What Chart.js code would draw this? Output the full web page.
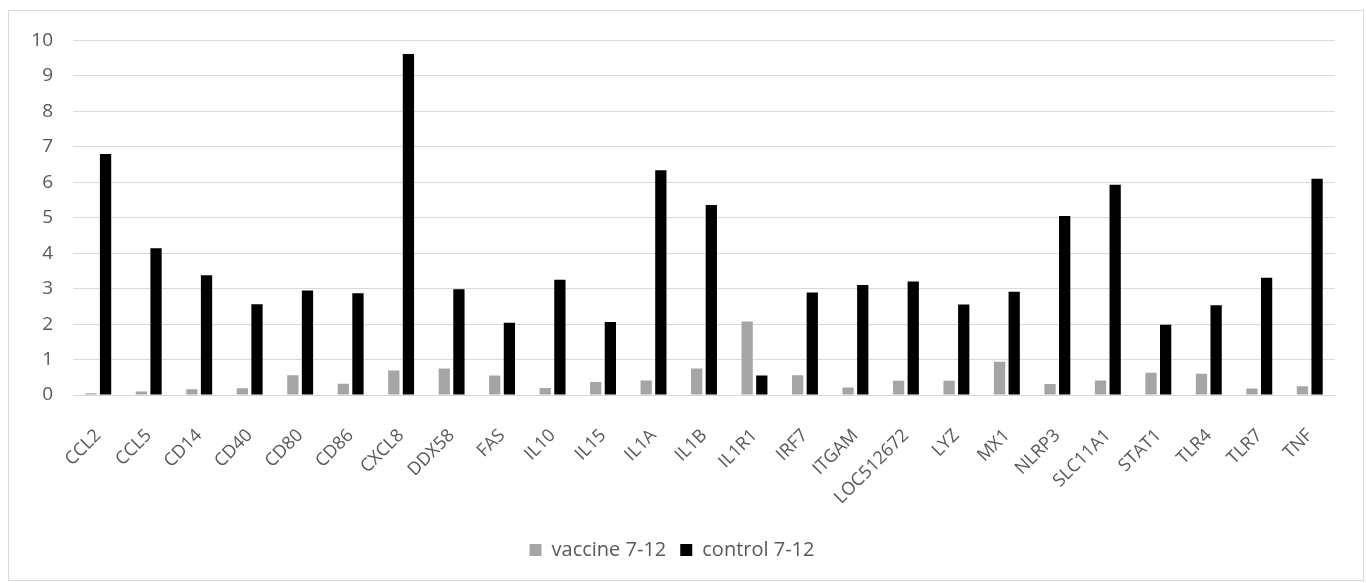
<!DOCTYPE html>
<html>
<head>
<meta charset="utf-8">
<script src="https://cdn.jsdelivr.net/npm/chart.js@4.4.1/dist/chart.umd.min.js"></script>
<style>
  html, body { margin: 0; padding: 0; background: #fff; }
  #box {
    position: absolute; left: 8px; top: 10px;
    width: 1354px; height: 569px;
    border: 1px solid #d9d9d9; background: #fff;
  }
</style>
</head>
<body>
<div id="box"><canvas id="geneChart"></canvas></div>
<script>
// gene names on the x axis
const genes = ['CCL2','CCL5','CD14','CD40','CD80','CD86','CXCL8','DDX58','FAS','IL10','IL15','IL1A','IL1B',
  'IL1R1','IRF7','ITGAM','LOC512672','LYZ','MX1','NLRP3','SLC11A1','STAT1','TLR4','TLR7','TNF'];

// values
const vaccine = [0.05,0.10,0.16,0.19,0.56,0.32,0.69,0.75,0.55,0.20,0.37,0.41,0.75,
  2.07,0.56,0.21,0.40,0.40,0.94,0.31,0.41,0.63,0.60,0.18,0.25];
const control = [6.80,4.14,3.38,2.56,2.95,2.87,9.62,2.98,2.04,3.25,2.06,6.34,5.36,
  0.55,2.89,3.10,3.20,2.55,2.91,5.05,5.93,1.98,2.53,3.31,6.10];

const yTicks = [0,1,2,3,4,5,6,7,8,9,10];

const txt = '#595959';
const fontFam = '"Open Sans", "Noto Sans", sans-serif';

const ctx = document.getElementById('geneChart');

const geneChart = new Chart(ctx, {
  type: 'bar',
  data: {
    labels: genes,
    datasets: [{
      label: 'vaccine 7-12',
      data: vaccine,
      backgroundColor: '#a5a5a5',
      barPercentage: 0.77,
      categoryPercentage: 0.58
    }, {
      label: 'control 7-12',
      data: control,
      backgroundColor: '#000000',
      barPercentage: 0.77,
      categoryPercentage: 0.58
    }]
  },
  options: {
    responsive: true,
    maintainAspectRatio: false,
    animation: false,
    layout: { padding: { top: 19, right: 28, left: 0, bottom: 10 } },
    plugins: {
      tooltip: { enabled: false },
      legend: {
        position: 'bottom',
        labels: {
          color: txt,
          font: { family: fontFam, size: 20 },
          boxWidth: 12, boxHeight: 12,
          padding: 14
        }
      }
    },
    scales: {
      x: {
        grid: { display: false, drawTicks: false },
        border: { color: '#d9d9d9' },
        ticks: {
          color: txt,
          font: { family: fontFam, size: 18 },
          minRotation: 45, maxRotation: 45,
          autoSkip: false,
          padding: 30
        },
        afterFit: function(scale) { scale.height = 131; }
      },
      y: {
        min: 0, max: 10,
        afterBuildTicks: function(scale) {
          scale.ticks = yTicks.map(function(v) { return { value: v }; });
        },
        grid: { color: '#d9d9d9', drawTicks: false },
        border: { display: false },
        ticks: {
          color: txt,
          font: { family: fontFam, size: 19, lineHeight: 1 },
          padding: 20
        },
        afterFit: function(scale) { scale.width = 64; }
      }
    }
  }
});
</script>
</body>
</html>
